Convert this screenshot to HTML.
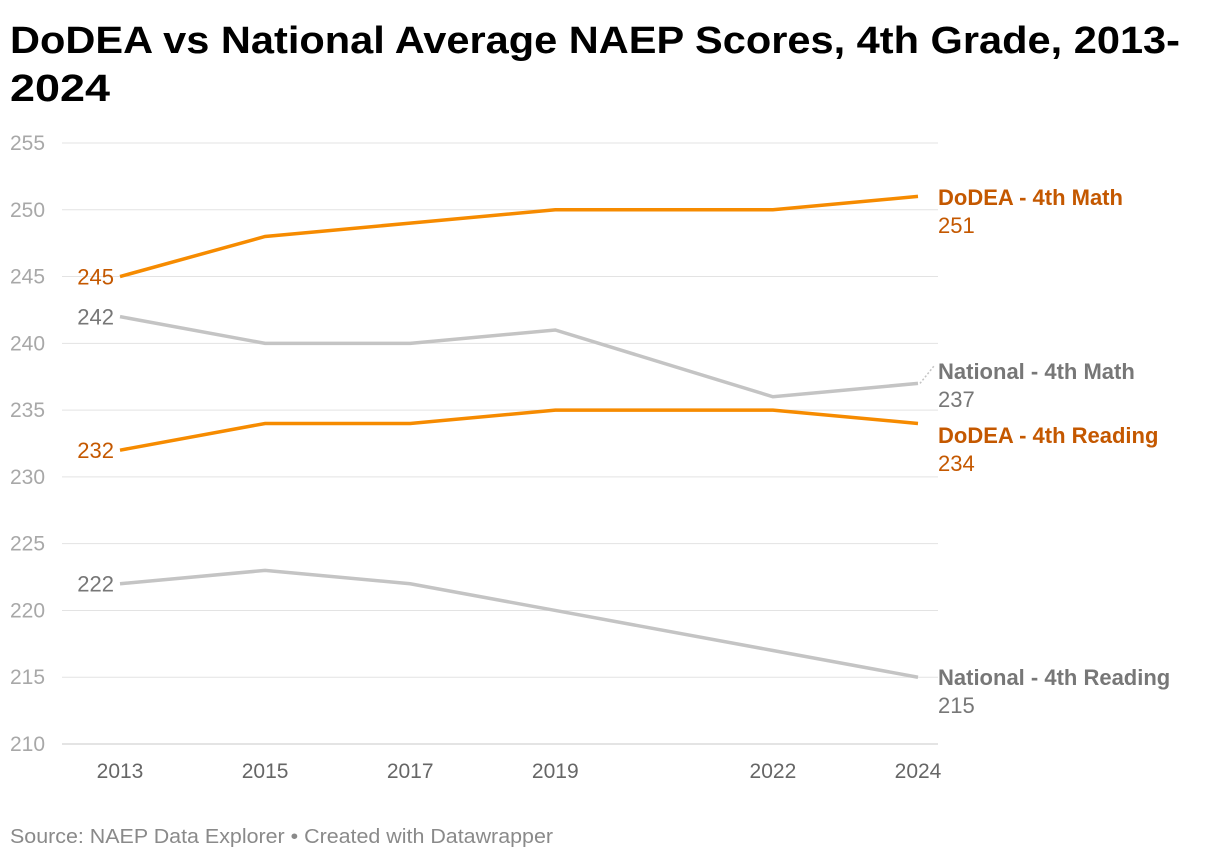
<!DOCTYPE html>
<html><head><meta charset="utf-8"><style>
body{margin:0;background:#fff;font-family:"Liberation Sans",Arial,sans-serif;}
svg text{font-family:"Liberation Sans",Arial,sans-serif;}
</style></head><body>
<svg id="c" width="1220" height="860">
<text x="10" y="53" font-size="38" font-weight="bold" fill="#000" textLength="1170" lengthAdjust="spacingAndGlyphs">DoDEA vs National Average NAEP Scores, 4th Grade, 2013-</text>
<text x="10" y="101" font-size="38" font-weight="bold" fill="#000" textLength="100" lengthAdjust="spacingAndGlyphs">2024</text>
<text x="10" y="843" font-size="20" fill="#8a8a8a" textLength="543" lengthAdjust="spacingAndGlyphs">Source: NAEP Data Explorer • Created with Datawrapper</text>
<g id="grid"></g><g id="lines"></g><g id="labels"></g>
</svg>
<script>
const years=[2013,2015,2017,2019,2022,2024];
const yTicks=[210,215,220,225,230,235,240,245,250,255];
const dodeaMath=[245,248,249,250,250,251];
const natMath=[242,240,240,241,236,237];
const dodeaRead=[232,234,234,235,235,234];
const natRead=[222,223,222,220,217,215];
const seriesNames=["DoDEA - 4th Math","National - 4th Math","DoDEA - 4th Reading","National - 4th Reading"];
const NS="http://www.w3.org/2000/svg";
const x=v=>120+(v-2013)*(798/11);
const y=v=>744-(v-210)*(601/45);
function mk(t,a,p){const e=document.createElementNS(NS,t);for(const k in a)e.setAttribute(k,a[k]);p.appendChild(e);return e;}
const g=document.getElementById('grid'),L=document.getElementById('lines'),T=document.getElementById('labels');
yTicks.forEach(v=>{
 const ln=mk('line',{x1:62,x2:938,y1:y(v),y2:y(v),stroke:v===210?'#c8c8c8':'#e3e3e3','stroke-width':1},g);
 
 
 const t=mk('text',{x:10,y:y(v)+7,'font-size':21,fill:'#a8a8a8'},g);t.textContent=v;
 
 
});
years.forEach(v=>{
 const t=mk('text',{x:x(v),y:778,'font-size':21,fill:'#666','text-anchor':'middle'},g);t.textContent=v;
 
 
});
const series=[
 {d:dodeaMath,c:'#f68b00',tc:'#c45800',ly:198,slug:'dodea-math'},
 {d:natMath,c:'#c4c4c4',tc:'#777',ly:372,slug:'national-math'},
 {d:dodeaRead,c:'#f68b00',tc:'#c45800',ly:436,slug:'dodea-reading'},
 {d:natRead,c:'#c4c4c4',tc:'#777',ly:678,slug:'national-reading'}];
series.forEach((s,i)=>{
 const p=mk('polyline',{points:s.d.map((v,j)=>x(years[j])+','+y(v)).join(' '),fill:'none',stroke:s.c,'stroke-width':3.5},L);
 
 
 const st=mk('text',{x:114,y:y(s.d[0])+8,'font-size':22,fill:s.tc,'text-anchor':'end'},T);st.textContent=s.d[0];
 
 
 const ey=y(s.d[s.d.length-1]);
 if(Math.abs(ey-(s.ly-6))>8){
  const cn=mk('line',{x1:920,y1:ey,x2:934,y2:s.ly-6,stroke:s.c,'stroke-width':1.5,'stroke-dasharray':'2,2'},T);
  
  
 }
 const nm=mk('text',{x:938,y:s.ly+7,'font-size':22,'font-weight':'bold',fill:s.tc},T);nm.textContent=seriesNames[i];
 
 
 const ev=mk('text',{x:938,y:s.ly+35,'font-size':22,fill:s.tc},T);ev.textContent=s.d[s.d.length-1];
 
 
});
</script>
</body></html>
